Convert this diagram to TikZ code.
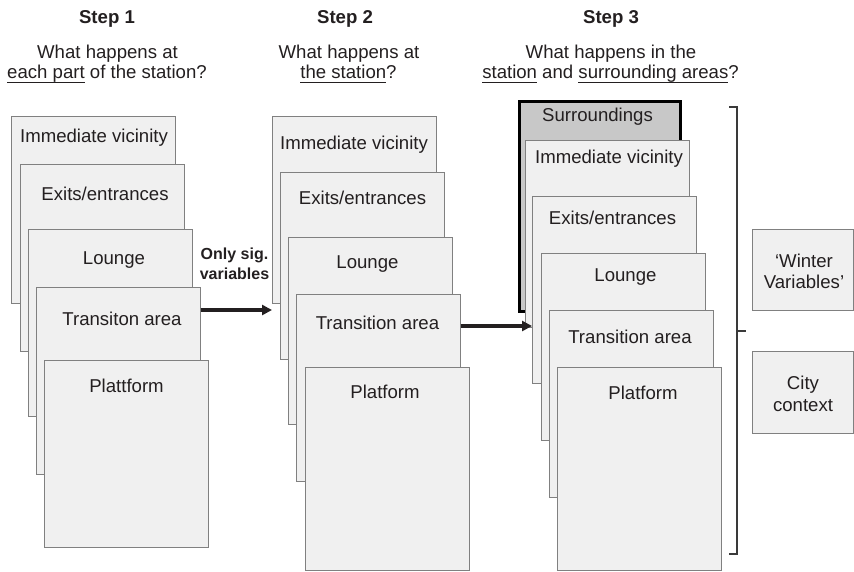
\documentclass[tikz,border=0pt]{standalone}
\usepackage{fontspec}
\setmainfont{Liberation Sans}
\usetikzlibrary{arrows.meta}
\definecolor{boxfill}{HTML}{F0F0F0}
\definecolor{boxline}{HTML}{808080}
\definecolor{surrfill}{HTML}{C8C8C8}
\definecolor{txt}{HTML}{231F20}
\definecolor{brk}{HTML}{3A3A3A}
\newcommand\myul[1]{\leavevmode\setbox0\hbox{#1}\rlap{\rule[-5pt]{\wd0}{1.3pt}}\box0\relax}
\begin{document}
\begin{tikzpicture}[x=1pt,y=-1pt,
  box/.style={draw=boxline,fill=boxfill,line width=1pt,anchor=north west,inner sep=0pt,
              minimum width=163.5pt,minimum height=187pt},
  surr/.style={draw=black,fill=surrfill,line width=3pt,anchor=north west,inner sep=0pt,
              minimum width=161.5pt,minimum height=209.5pt},
  lbl/.style={anchor=base,inner sep=0pt,text=txt,font=\fontsize{18.6}{22}\selectfont},
  hdr/.style={anchor=base,inner sep=0pt,text=txt,font=\fontsize{18.6}{22}\selectfont\bfseries},
  sig/.style={anchor=base,inner sep=0pt,text=txt,font=\fontsize{16}{20}\selectfont\bfseries},
  arr/.style={draw=txt,line width=3.4pt,-{Triangle[length=10pt,width=10pt]}},
  brace/.style={draw=brk,line width=1.2pt}]
\useasboundingbox (0,0) rectangle (854,571);

% headers
\node[hdr] (h1) at (107,23.5) {Step 1};
\node[lbl] (q1a) at (107.5,58.5) {What happens at};
\node[lbl] (q1b) at (107,78) {\myul{each part} of the station?};
\node[hdr] (h2) at (345,23.5) {Step 2};
\node[lbl] (q2a) at (349,58.5) {What happens at};
\node[lbl] (q2b) at (348.5,78) {\myul{the station}?};
\node[hdr] (h3) at (611,23.5) {Step 3};
\node[lbl] (q3a) at (611,58.5) {What happens in the};
\node[lbl] (q3b) at (610.5,78) {\myul{station} and \myul{surrounding areas}?};

% step 1
\node[box] (s1a) at (11,116) {};
\node[lbl] (l1a) at (94,142) {Immediate vicinity};
\node[box] (s1b) at (20,164) {};
\node[lbl] (l1b) at (105,200.5) {Exits/entrances};
\node[box] (s1c) at (28,229) {};
\node[lbl] (l1c) at (114,264.5) {Lounge};
\node[box] (s1d) at (36,287) {};
\node[lbl] (l1d) at (122,325.5) {Transiton area};
\node[box] (s1e) at (44,360) {};
\node[lbl] (l1e) at (126.5,392.5) {Plattform};

% step 2
\node[box] (s2a) at (272,116) {};
\node[lbl] (l2a) at (354,149.5) {Immediate vicinity};
\node[box] (s2b) at (280,172) {};
\node[lbl] (l2b) at (362.5,204.5) {Exits/entrances};
\node[box] (s2c) at (288,237) {};
\node[lbl] (l2c) at (367.5,268.5) {Lounge};
\node[box] (s2d) at (296,294) {};
\node[lbl] (l2d) at (377.5,329.5) {Transition area};
\node[box,minimum height=203pt] (s2e) at (305,367) {};
\node[lbl] (l2e) at (385,398.5) {Platform};

% step 3
\node[surr] (s3s) at (517.5,100) {};
\node[lbl] (l3s) at (597.5,121.5) {Surroundings};
\node[box] (s3a) at (525,140) {};
\node[lbl] (l3a) at (609,163.5) {Immediate vicinity};
\node[box] (s3b) at (532,196) {};
\node[lbl] (l3b) at (612.5,224.5) {Exits/entrances};
\node[box] (s3c) at (541,253) {};
\node[lbl] (l3c) at (625.5,281.5) {Lounge};
\node[box] (s3d) at (549,310) {};
\node[lbl] (l3d) at (630,343.5) {Transition area};
\node[box,minimum height=203pt] (s3e) at (557,367) {};
\node[lbl] (l3e) at (643,399.5) {Platform};

% side boxes
\node[box,minimum width=101pt,minimum height=81pt] (win) at (752,229) {};
\node[lbl] (lwa) at (804,267) {‘Winter};
\node[lbl] (lwb) at (804,288.5) {Variables’};
\node[box,minimum width=101pt,minimum height=82pt] (city) at (752,351) {};
\node[lbl] (lca) at (803,389.5) {City};
\node[lbl] (lcb) at (803,411) {context};

% arrows
\node[sig] (sga) at (234.5,259) {Only sig.};
\node[sig] (sgb) at (234.5,279) {variables};
\coordinate (a1s) at ([yshift=-23pt]s1d.north east);
\coordinate (a1e) at (a1s -| s2a.west);
\draw[arr] (a1s) -- (a1e);
\coordinate (a2s) at ([yshift=-32pt]s2d.north east);
\coordinate (a2e) at (a2s -| s3b.west);
\draw[arr] (a2s) -- (a2e);

% bracket
\coordinate (bt0) at (729,107);
\coordinate (bt1) at (737,107);
\coordinate (bb1) at (737,554);
\coordinate (bb0) at (729,554);
\coordinate (bm0) at (737,331);
\coordinate (bm1) at (746,331);
\draw[brace] (bt0) -- (bt1) -- (bb1) -- (bb0);
\draw[brace] (bm0) -- (bm1);
\end{tikzpicture}
\end{document}
